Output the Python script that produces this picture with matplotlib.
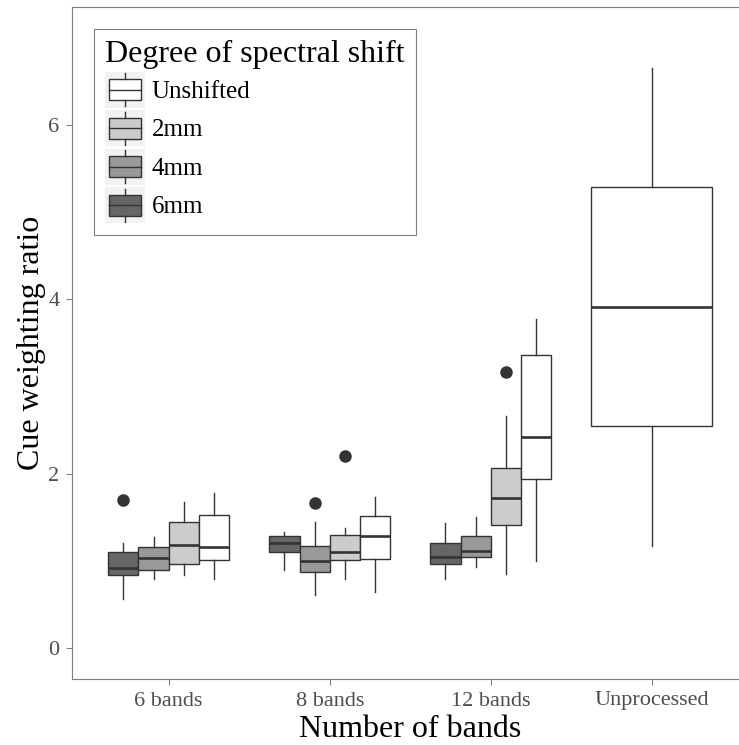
import matplotlib
matplotlib.use("Agg")
import matplotlib.pyplot as plt
from matplotlib.legend_handler import HandlerBase
from matplotlib.patches import Rectangle, Patch
from matplotlib.lines import Line2D

plt.rcParams['font.family'] = ['Liberation Serif', 'DejaVu Serif']

# categories on the x axis
bands = ["6 bands", "8 bands", "12 bands", "Unprocessed"]

# shift levels, drawn left to right inside each group
shifts = ["6mm", "4mm", "2mm", "Unshifted"]
fills = {"6mm": "#666666", "4mm": "#999999", "2mm": "#cccccc", "Unshifted": "#ffffff"}

# box statistics per shift level (one entry per band group it appears in)
lo_6mm = [0.565, 0.90, 0.79]
q1_6mm = [0.84, 1.105, 0.96]
med_6mm = [0.92, 1.20, 1.045]
q3_6mm = [1.10, 1.28, 1.205]
hi_6mm = [1.20, 1.33, 1.43]
out_6mm = [[1.70], [], []]

lo_4mm = [0.795, 0.61, 0.925]
q1_4mm = [0.89, 0.875, 1.047]
med_4mm = [1.03, 1.00, 1.116]
q3_4mm = [1.16, 1.17, 1.288]
hi_4mm = [1.27, 1.44, 1.506]
out_4mm = [[], [1.666], []]

lo_2mm = [0.84, 0.79, 0.85]
q1_2mm = [0.965, 1.005, 1.41]
med_2mm = [1.18, 1.105, 1.72]
q3_2mm = [1.445, 1.30, 2.068]
hi_2mm = [1.68, 1.376, 2.664]
out_2mm = [[], [2.204], [3.17]]

lo_unsh = [0.795, 0.64, 1.00, 1.17]
q1_unsh = [1.01, 1.02, 1.94, 2.544]
med_unsh = [1.16, 1.29, 2.42, 3.915]
q3_unsh = [1.53, 1.517, 3.36, 5.287]
hi_unsh = [1.775, 1.735, 3.77, 6.655]
out_unsh = [[], [], [], []]

stats = {
    "6mm": (lo_6mm, q1_6mm, med_6mm, q3_6mm, hi_6mm, out_6mm),
    "4mm": (lo_4mm, q1_4mm, med_4mm, q3_4mm, hi_4mm, out_4mm),
    "2mm": (lo_2mm, q1_2mm, med_2mm, q3_2mm, hi_2mm, out_2mm),
    "Unshifted": (lo_unsh, q1_unsh, med_unsh, q3_unsh, hi_unsh, out_unsh),
}

dark = "#333333"
frame = "#7f7f7f"

fig = plt.figure(figsize=(7.39, 7.45), dpi=100)
ax = fig.add_axes([72 / 739, 66 / 745, 676.5 / 739, 672 / 745])

group_w = 0.75
for i, s in enumerate(shifts):
    lo, q1, med, q3, hi, out = stats[s]
    recs, pos, wid = [], [], []
    for g in range(len(lo)):
        present = [t for t in shifts if len(stats[t][0]) > g]
        w = group_w / len(present)
        idx = present.index(s)
        pos.append(g + 1 - group_w / 2 + w * (idx + 0.5))
        wid.append(w)
        recs.append(dict(whislo=lo[g], q1=q1[g], med=med[g], q3=q3[g],
                         whishi=hi[g], fliers=out[g]))
    ax.bxp(recs, positions=pos, widths=wid, patch_artist=True, showcaps=False,
           manage_ticks=False,
           boxprops=dict(facecolor=fills[s], edgecolor=dark, linewidth=1.0),
           medianprops=dict(color=dark, linewidth=1.9, solid_capstyle='butt'),
           whiskerprops=dict(color=dark, linewidth=1.0),
           flierprops=dict(marker='o', markerfacecolor=dark, markeredgecolor=dark,
                           markersize=8))

ax.set_xlim(0.4, 4.6)
ax.set_ylim(-0.355, 7.35)
ax.set_xticks(range(1, len(bands) + 1))
ax.set_xticklabels(bands)
ax.set_yticks([0, 2, 4, 6])
ax.tick_params(length=4, width=0.8, color=frame, labelcolor="#4d4d4d",
               labelsize=16, pad=5)
for sp in ax.spines.values():
    sp.set_color(frame)
    sp.set_linewidth(0.8)

ax.set_xlabel("Number of bands", fontsize=23, labelpad=3)
ax.set_ylabel("Cue weighting ratio", fontsize=23, labelpad=2)


class BoxKey(HandlerBase):
    # small boxplot glyph on a light grey key background
    def create_artists(self, legend, orig_handle, xdescent, ydescent,
                       width, height, fontsize, trans):
        x0, y0 = -xdescent, -ydescent
        bg = Rectangle((x0, y0), width, height, facecolor="#f2f2f2",
                       edgecolor="none", transform=trans)
        box = Rectangle((x0 + 0.1 * width, y0 + 0.21 * height), 0.8 * width,
                        0.58 * height, facecolor=orig_handle.get_facecolor(),
                        edgecolor=dark, linewidth=1.0, transform=trans)
        xm = x0 + width / 2
        med = Line2D([x0 + 0.1 * width, x0 + 0.9 * width], [y0 + height / 2] * 2,
                     color=dark, linewidth=1.0, transform=trans)
        w1 = Line2D([xm, xm], [y0 + 0.79 * height, y0 + 0.96 * height],
                    color=dark, linewidth=1.0, transform=trans)
        w2 = Line2D([xm, xm], [y0 + 0.04 * height, y0 + 0.21 * height],
                    color=dark, linewidth=1.0, transform=trans)
        return [bg, box, med, w1, w2]


legend_order = ["Unshifted", "2mm", "4mm", "6mm"]
handles = [Patch(facecolor=fills[s]) for s in legend_order]
leg = ax.legend(handles, legend_order, handler_map={Patch: BoxKey()},
                title="Degree of spectral shift", alignment="left",
                title_fontproperties={"size": 23}, fontsize=18,
                loc="upper left", bbox_to_anchor=(94 / 739, 1 - 29 / 745),
                bbox_transform=fig.transFigure, borderaxespad=0,
                handlelength=1.58, handleheight=1.84, labelspacing=0.1,
                handletextpad=0.28, borderpad=0.45, fancybox=False,
                framealpha=1, edgecolor=frame)
leg.get_frame().set_linewidth(0.8)

fig.savefig("out.png", dpi=100)
